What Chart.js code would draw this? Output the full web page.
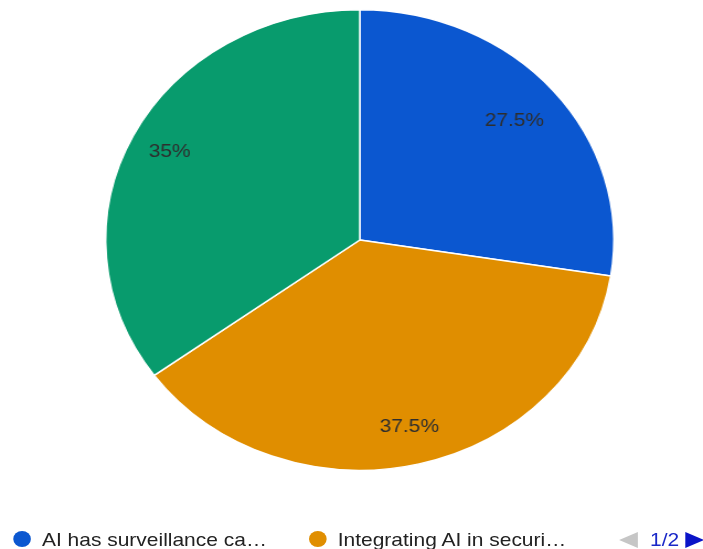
<!DOCTYPE html>
<html>
<head>
<meta charset="utf-8">
<script src="https://cdn.jsdelivr.net/npm/chart.js@4/dist/chart.umd.min.js"></script>
<style>
  html, body { margin: 0; padding: 0; background: #fff; overflow: hidden; }
  #wrap { position: absolute; left: 0; top: 0; width: 637px; height: 549px;
          transform: scaleX(1.1036); transform-origin: 0 0; }
  #c { position: absolute; left: 0; top: 0; }
  .leg { position: absolute; font-family: "Liberation Sans", Arial, sans-serif; font-size: 19px;
         color: #222; white-space: nowrap; line-height: 19px; }
  .dot { position: absolute; width: 16px; height: 16px; border-radius: 50%; }
  .tri-l { position: absolute; width: 0; height: 0; border-top: 8px solid transparent;
           border-bottom: 8px solid transparent; border-right: 17px solid #c6c6c6; }
  .tri-r { position: absolute; width: 0; height: 0; border-top: 8px solid transparent;
           border-bottom: 8px solid transparent; border-left: 17px solid #0a14c8; }
  #page { position: absolute; font-family: "Liberation Sans", Arial, sans-serif; font-size: 19px;
          color: #1a28c8; line-height: 19px; }
</style>
</head>
<body>
<div id="wrap">
  <canvas id="c" width="637" height="549"></canvas>
  <div id="legend"></div>
</div>
<script>
// Data
const categories = ["AI has surveillance ca…", "Integrating AI in securi…", "(page 2 item)"];
const percentValues = [27.5, 37.5, 35];
const sliceColors = ["#0b57d0", "#e08e00", "#089b6d"];
const legendVisible = [0, 1];
const pagerText = "1/2";
// label placement (fraction of radius) per slice
const labelRadius = [0.8, 0.835, 0.84];

const labelPlugin = {
  id: 'sliceLabels',
  afterDatasetsDraw(chart) {
    const ctx = chart.ctx;
    const meta = chart.getDatasetMeta(0);
    ctx.save();
    ctx.font = '19px "Liberation Sans", Arial, sans-serif';
    ctx.fillStyle = '#2e2e2e';
    ctx.textAlign = 'center';
    ctx.textBaseline = 'middle';
    meta.data.forEach((arc, i) => {
      const p = arc.getProps(['x', 'y', 'startAngle', 'endAngle', 'outerRadius'], true);
      const mid = (p.startAngle + p.endAngle) / 2;
      const r = p.outerRadius * labelRadius[i];
      ctx.fillText(percentValues[i] + '%', p.x + Math.cos(mid) * r, p.y + Math.sin(mid) * r);
    });
    ctx.restore();
  }
};

new Chart(document.getElementById('c'), {
  type: 'pie',
  data: {
    labels: categories,
    datasets: [{
      data: percentValues,
      backgroundColor: sliceColors,
      borderColor: '#ffffff',
      borderWidth: 1.5
    }]
  },
  options: {
    responsive: false,
    animation: false,
    layout: { padding: { left: 15, right: 0, top: 9, bottom: 78 } },
    plugins: {
      legend: { display: false },
      tooltip: { enabled: false }
    }
  },
  plugins: [labelPlugin]
});

// Legend (first page)
const legendEl = document.getElementById('legend');
const itemPos = [{dot: 12, text: 38}, {dot: 280, text: 306}];
legendVisible.forEach((idx, k) => {
  const d = document.createElement('div');
  d.className = 'dot';
  d.style.left = itemPos[k].dot + 'px';
  d.style.top = '531px';
  d.style.background = sliceColors[idx];
  legendEl.appendChild(d);
  const t = document.createElement('div');
  t.className = 'leg';
  t.style.left = itemPos[k].text + 'px';
  t.style.top = '530px';
  t.textContent = categories[idx];
  legendEl.appendChild(t);
});
const tl = document.createElement('div');
tl.className = 'tri-l'; tl.style.left = '561px'; tl.style.top = '532px';
legendEl.appendChild(tl);
const pg = document.createElement('div');
pg.id = 'page'; pg.style.left = '589px'; pg.style.top = '530px';
pg.textContent = pagerText;
legendEl.appendChild(pg);
const tr = document.createElement('div');
tr.className = 'tri-r'; tr.style.left = '621px'; tr.style.top = '532px';
legendEl.appendChild(tr);
</script>
</body>
</html>
